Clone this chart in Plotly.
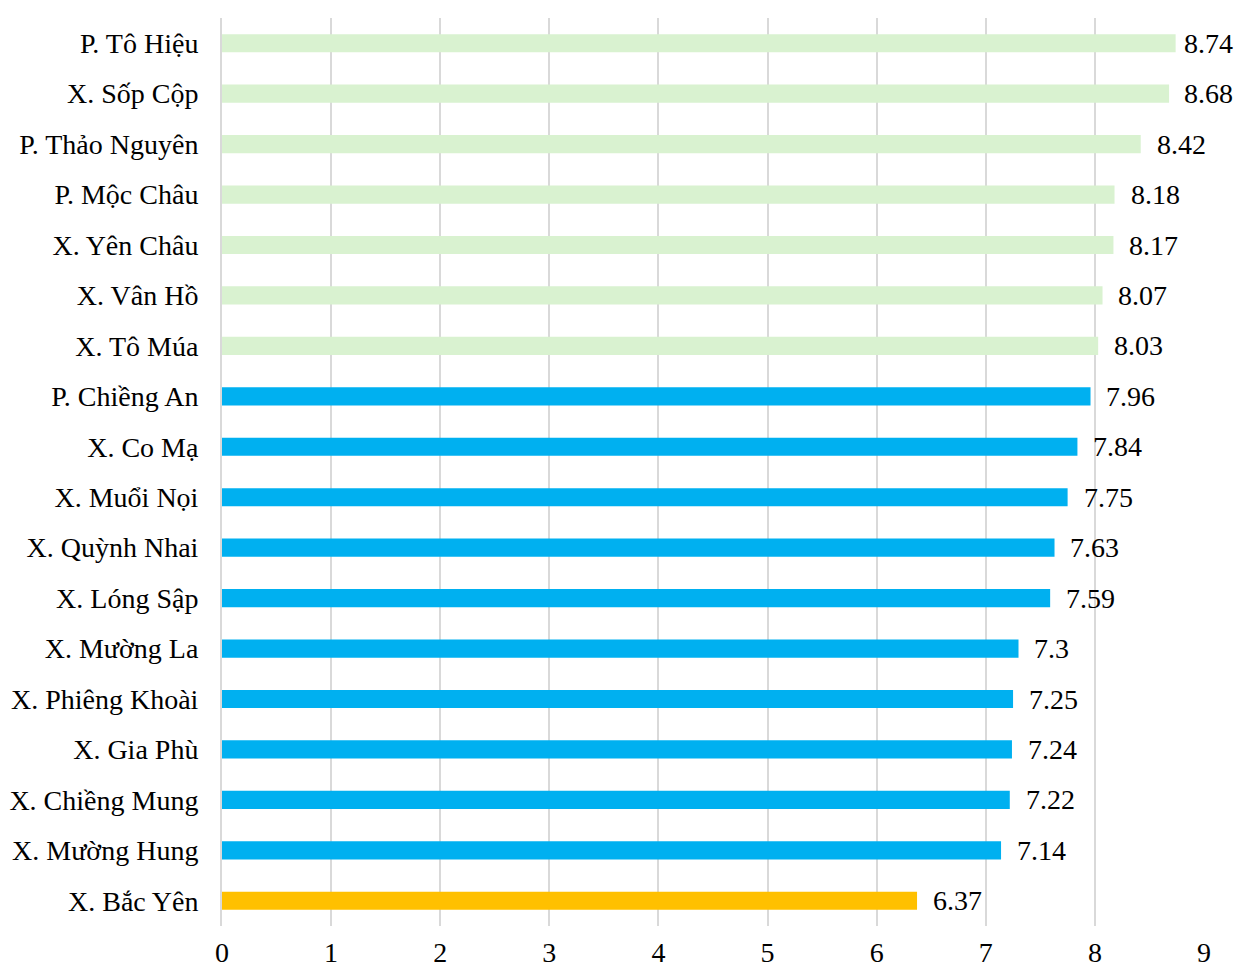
import plotly.graph_objects as go

categories = ["P. Tô Hiệu", "X. Sốp Cộp", "P. Thảo Nguyên", "P. Mộc Châu", "X. Yên Châu",
              "X. Vân Hồ", "X. Tô Múa", "P. Chiềng An", "X. Co Mạ", "X. Muổi Nọi",
              "X. Quỳnh Nhai", "X. Lóng Sập", "X. Mường La", "X. Phiêng Khoài", "X. Gia Phù",
              "X. Chiềng Mung", "X. Mường Hung", "X. Bắc Yên"]
values = [8.74, 8.68, 8.42, 8.18, 8.17, 8.07, 8.03, 7.96, 7.84, 7.75,
          7.63, 7.59, 7.3, 7.25, 7.24, 7.22, 7.14, 6.37]
groups = ["high"] * 7 + ["mid"] * 10 + ["low"]
tick_values = list(range(0, 10))

group_colors = {"high": "#d9f2d0", "mid": "#00b0f0", "low": "#ffc000"}
FONT = "Liberation Serif, Times New Roman, serif"
FS = 28
LABEL_PAD = 0.128      # gap between bar end and its label, in axis units
LABEL_MAX_X = 8.80     # labels are kept inside the chart area (as Excel does)

fig = go.Figure()
fig.add_trace(go.Bar(
    x=values, y=categories, orientation="h",
    marker=dict(color=[group_colors[g] for g in groups], line=dict(width=0)),
    hoverinfo="x+y",
))

for c, v in zip(categories, values):
    fig.add_annotation(x=min(v + LABEL_PAD, LABEL_MAX_X), y=c, text=f"{v:g}", showarrow=False,
                       xanchor="left", yanchor="middle",
                       font=dict(family=FONT, size=FS, color="#000"))

fig.update_layout(
    width=1234, height=969,
    margin=dict(l=222, r=30, t=18, b=43),
    paper_bgcolor="white", plot_bgcolor="white",
    bargap=0.64, showlegend=False,
    font=dict(family=FONT, size=FS, color="#000"),
)
fig.update_xaxes(range=[0, 9], tickvals=tick_values, showgrid=True, gridcolor="#d9d9d9",
                 gridwidth=2, zeroline=False, showline=False, ticks="", ticklabelstandoff=7,
                 automargin=False, tickfont=dict(family=FONT, size=FS, color="#000"))
fig.update_yaxes(autorange="reversed", showgrid=False, zeroline=False,
                 showline=True, linecolor="#d9d9d9", linewidth=2, ticks="",
                 automargin=False,
                 ticklabelstandoff=16, tickfont=dict(family=FONT, size=FS, color="#000"))

fig.write_html("out.html", config={"displayModeBar": False},
               post_script="document.body.style.margin='0';document.body.style.overflow='hidden';")
